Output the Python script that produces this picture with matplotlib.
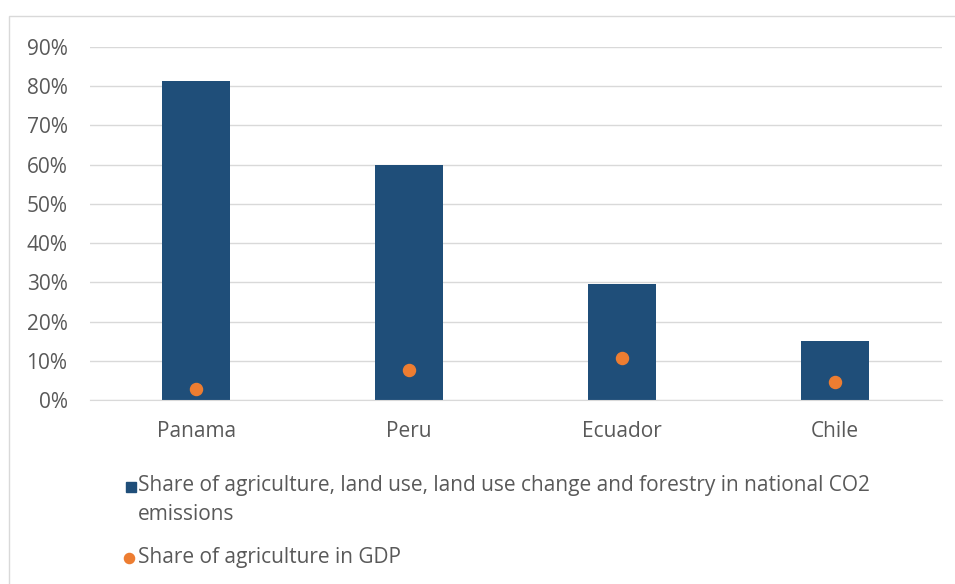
import matplotlib.pyplot as plt
from matplotlib.patches import Rectangle
from matplotlib.lines import Line2D
from matplotlib.ticker import PercentFormatter

countries = ['Panama', 'Peru', 'Ecuador', 'Chile']
co2_share = [0.814, 0.600, 0.297, 0.150]
gdp_share = [0.028, 0.077, 0.107, 0.046]
yticks = [0, 0.1, 0.2, 0.3, 0.4, 0.5, 0.6, 0.7, 0.8, 0.9]
legend_lines = [
    ['Share of agriculture, land use, land use change and forestry in national CO2',
     'emissions'],
    ['Share of agriculture in GDP'],
]

bar_col = '#1f4e79'
dot_col = '#ed7d31'
txt_col = '#595959'
fs = 15

plt.rcParams['font.family'] = ['Open Sans', 'DejaVu Sans']

fig = plt.figure(figsize=(9.55, 5.84), dpi=100)
ax = fig.add_axes([0.094, 0.315, 0.892, 0.6045])

x = range(len(countries))
ax.bar(x, co2_share, width=0.32, color=bar_col, zorder=2)
ax.scatter(x, gdp_share, s=75, color=dot_col, zorder=3)

ax.set_xlim(-0.5, 3.5)
ax.set_ylim(0, 0.9)
ax.set_yticks(yticks)
ax.yaxis.set_major_formatter(PercentFormatter(1.0, decimals=0))
ax.set_xticks(list(x))
ax.set_xticklabels(countries)
ax.grid(axis='y', color='#d9d9d9', lw=1, zorder=0)
for s in ['top', 'right', 'left']:
    ax.spines[s].set_visible(False)
ax.spines['bottom'].set_color('#d9d9d9')
ax.tick_params(axis='both', length=0, labelsize=fs, colors=txt_col)
ax.tick_params(axis='x', pad=15)
ax.tick_params(axis='y', pad=16)

# legend drawn by hand so the marker sits on the first line
W, H = 955, 584
legend_rows = [(487, 's', bar_col, 131), (558, 'o', dot_col, 129)]
for (ypx, mk, col, xpx), lines in zip(legend_rows, legend_lines):
    fig.add_artist(Line2D([xpx / W], [1 - ypx / H], marker=mk, ls='', color=col,
                          markersize=7.3, transform=fig.transFigure))
    for k, line in enumerate(lines):
        fig.text(138 / W, 1 - (ypx - 1 + 28 * k) / H, line, ha='left', va='center',
                 fontsize=fs, color=txt_col)

fig.patches.append(Rectangle((9 / W, -0.05), 1.2, 1 - 16 / H + 0.05,
                             transform=fig.transFigure, fill=False,
                             edgecolor='#d9d9d9', lw=1))

fig.savefig('out.png', dpi=100)
